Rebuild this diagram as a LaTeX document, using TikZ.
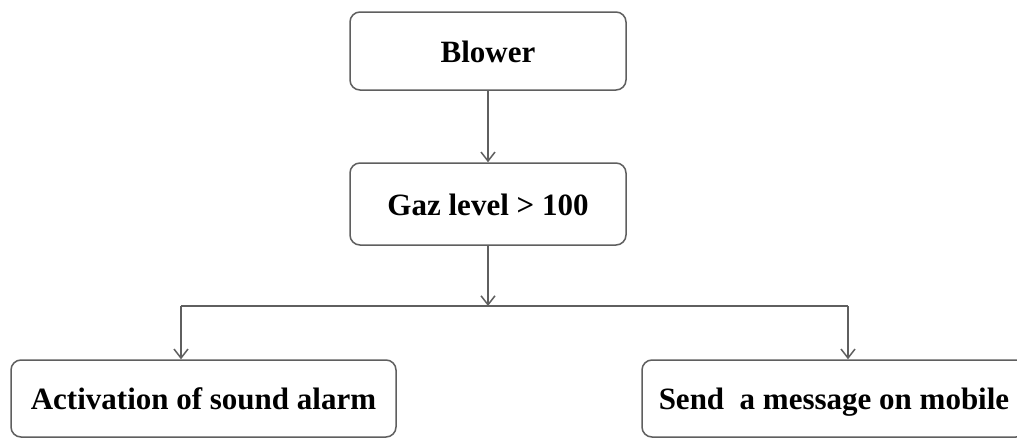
\documentclass[tikz,border=0pt]{standalone}
\usepackage{fontspec}
\setmainfont{Liberation Serif}
\usetikzlibrary{arrows.meta}
\definecolor{linegray}{RGB}{95,95,95}
\tikzset{
  box/.style={draw=linegray, line width=1.5pt, rounded corners=10pt, fill=white,
    font=\fontsize{31}{36}\selectfont\bfseries, inner sep=0pt, anchor=center,
    text height=22pt, text depth=0pt},
  conn/.style={draw=linegray, line width=1.5pt},
  arr/.style={conn, -{Straight Barb[length=9pt,width=14pt]}},
}
\begin{document}
\begin{tikzpicture}[x=1pt,y=-1pt]
\useasboundingbox (0,0) rectangle (1017,439);
\clip (0,0) rectangle (1017,439);
\fill[white] (0,0) rectangle (1017,439);
\node[box, minimum width=276pt, minimum height=78pt] (blower) at (488,51) {Blower};
\node[box, minimum width=276pt, minimum height=82pt] (gaz) at (488,204) {Gaz level > 100};
\node[box, minimum width=385pt, minimum height=77pt] (alarm) at (203.5,398.5) {Activation of sound alarm};
\node[box, minimum width=384pt, minimum height=77pt] (msg) at (834,398.5) {Send\ \ a message on mobile};
\coordinate (bl) at (181,306);
\coordinate (br) at (848,306);
\draw[arr] (blower.south) -- (gaz.north);
\draw[arr] (gaz.south) -- (gaz.south |- bl);
\draw[conn] (bl) -- (br);
\draw[arr] (bl) -- (bl |- alarm.north);
\draw[arr] (br) -- (br |- msg.north);
\end{tikzpicture}
\end{document}
